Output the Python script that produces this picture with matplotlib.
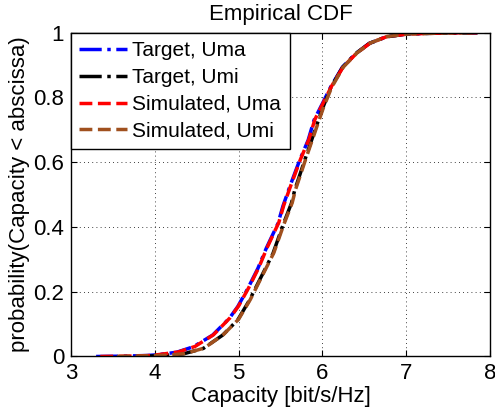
import matplotlib
matplotlib.use("Agg")
from matplotlib import pyplot as plt

plt.rcParams['font.family'] = ['Liberation Sans', 'DejaVu Sans']
plt.rcParams['font.size'] = 16

# CDF curves
target_uma_x = [3.30, 3.60, 3.90, 4.02, 4.26, 4.46, 4.69, 4.89, 4.99, 5.11, 5.23, 5.33,
                5.47, 5.53, 5.61, 5.73, 5.83, 5.90, 6.00, 6.10, 6.24, 6.40, 6.56, 6.76,
                7.00, 7.40, 7.85]
target_uma_p = [0.0, 0.001, 0.003, 0.005, 0.013, 0.030, 0.066, 0.118, 0.154, 0.210, 0.272, 0.334,
                0.411, 0.465, 0.524, 0.607, 0.668, 0.730, 0.781, 0.833, 0.894, 0.936, 0.967, 0.987,
                0.996, 0.999, 1.0]

sim_uma_x = [3.35, 3.65, 3.95, 4.05, 4.28, 4.48, 4.70, 4.90, 5.00, 5.12, 5.24, 5.34,
             5.48, 5.54, 5.62, 5.74, 5.84, 5.91, 6.01, 6.11, 6.25, 6.41, 6.57, 6.77,
             7.02, 7.45, 7.85]
sim_uma_p = [0.0, 0.001, 0.003, 0.006, 0.014, 0.031, 0.067, 0.120, 0.156, 0.212, 0.274, 0.336,
             0.414, 0.468, 0.526, 0.610, 0.671, 0.732, 0.783, 0.835, 0.895, 0.937, 0.968, 0.988,
             0.996, 0.999, 1.0]

target_umi_x = [3.80, 4.10, 4.34, 4.58, 4.81, 4.99, 5.13, 5.25, 5.41, 5.53, 5.63, 5.67,
                5.79, 5.90, 6.00, 6.10, 6.24, 6.40, 6.56, 6.76, 7.00, 7.40, 7.85]
target_umi_p = [0.0, 0.003, 0.008, 0.025, 0.066, 0.113, 0.174, 0.236, 0.318, 0.406, 0.473, 0.514,
                0.607, 0.690, 0.765, 0.830, 0.893, 0.936, 0.967, 0.987, 0.996, 0.999, 1.0]

sim_umi_x = [3.55, 3.90, 4.15, 4.36, 4.59, 4.82, 5.00, 5.14, 5.26, 5.42, 5.54, 5.64, 5.68,
             5.80, 5.91, 6.01, 6.11, 6.25, 6.41, 6.57, 6.77, 7.02, 7.45, 7.85]
sim_umi_p = [0.0, 0.002, 0.004, 0.009, 0.026, 0.068, 0.115, 0.176, 0.238, 0.320, 0.408, 0.475, 0.516,
             0.609, 0.692, 0.767, 0.831, 0.894, 0.937, 0.968, 0.988, 0.996, 0.999, 1.0]

labels = ['Target, Uma', 'Target, Umi', 'Simulated, Uma', 'Simulated, Umi']
colors = ['#0000ff', '#000000', '#ff0000', '#a0501e']

fig = plt.figure(figsize=(4.95, 4.17), dpi=100)
ax = fig.add_axes([0.1434, 0.1451, 0.8465, 0.7765])

ax.plot(target_uma_x, target_uma_p, '-.', color=colors[0], lw=2.5, label=labels[0])
ax.plot(target_umi_x, target_umi_p, '-.', color=colors[1], lw=2.5, label=labels[1])
ax.plot(sim_uma_x, sim_uma_p, '--', color=colors[2], lw=2.5, label=labels[2])
ax.plot(sim_umi_x, sim_umi_p, '--', color=colors[3], lw=2.5, label=labels[3])

ax.set_xlim(3, 8)
ax.set_ylim(0, 1)
ax.set_xticks([3, 4, 5, 6, 7, 8])
ax.set_yticks([0, 0.2, 0.4, 0.6, 0.8, 1])
ax.set_yticklabels(['0', '0.2', '0.4', '0.6', '0.8', '1'])
ax.tick_params(direction='in', length=4, top=True, right=True, pad=5)
ax.grid(True, linestyle=(0, (1, 4)), color='black', linewidth=0.6)
for s in ax.spines.values():
    s.set_linewidth(1)

ax.set_title('Empirical CDF', fontsize=16, pad=9)
ax.set_xlabel('Capacity [bit/s/Hz]', labelpad=1)
ax.set_ylabel('probability(Capacity < abscissa)', labelpad=2)

leg = ax.legend(loc='upper left', borderaxespad=0, fancybox=False, framealpha=1,
                edgecolor='black', fontsize=15, handlelength=2.3, handletextpad=0.25,
                labelspacing=0.38, borderpad=0.4)
leg.get_frame().set_linewidth(1)

fig.savefig('out.png', dpi=100)
